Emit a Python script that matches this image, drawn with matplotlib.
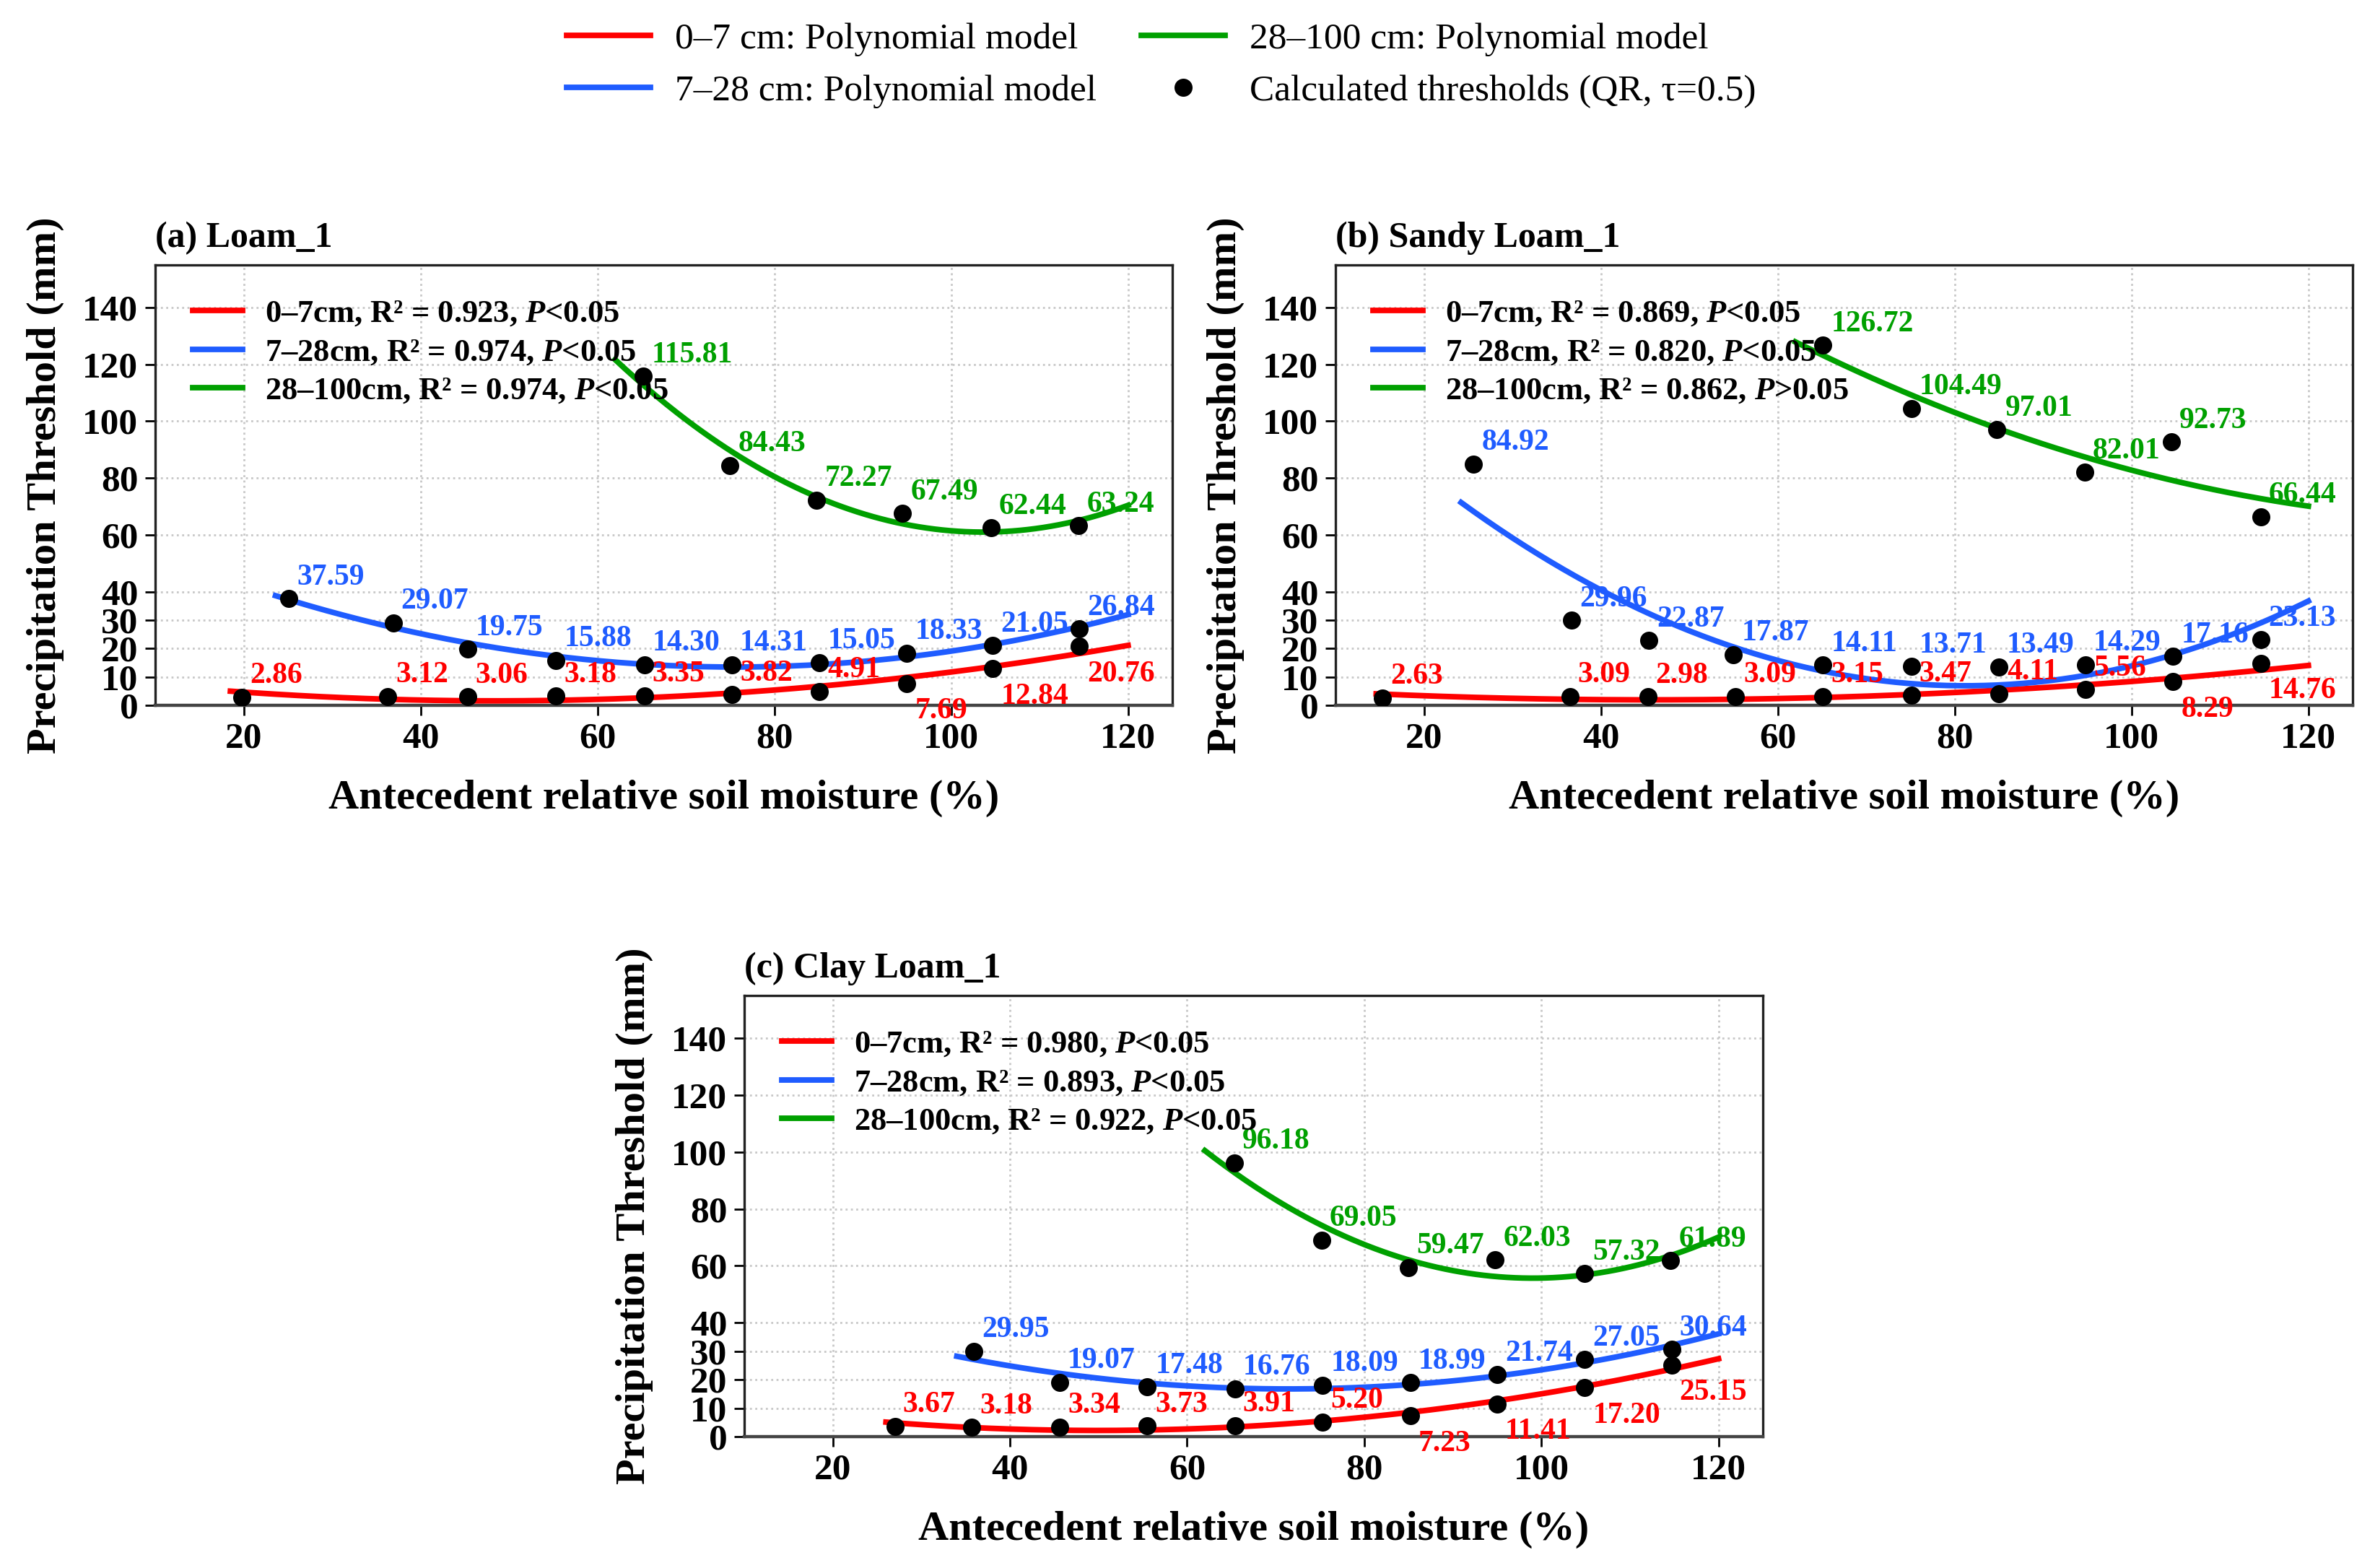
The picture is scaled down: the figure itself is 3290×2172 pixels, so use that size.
import numpy as np
import matplotlib
matplotlib.use("Agg")
import matplotlib.pyplot as plt
from matplotlib.lines import Line2D

plt.rcParams["font.family"] = ["Liberation Serif", "DejaVu Serif"]
plt.rcParams["font.weight"] = "bold"
plt.rcParams["mathtext.fontset"] = "custom"
plt.rcParams["mathtext.it"] = "Liberation Serif:italic:bold"
plt.rcParams["mathtext.rm"] = "Liberation Serif:bold"

# (a) Loam_1
a_x_07 = [19.8, 36.3, 45.3, 55.3, 65.3, 75.2, 85.1, 95.0, 104.7, 114.5]
a_y_07 = [2.86, 3.12, 3.06, 3.18, 3.35, 3.82, 4.91, 7.69, 12.84, 20.76]
a_x_728 = [25.1, 36.9, 45.3, 55.3, 65.3, 75.2, 85.1, 95.0, 104.7, 114.5]
a_y_728 = [37.59, 29.07, 19.75, 15.88, 14.30, 14.31, 15.05, 18.33, 21.05, 26.84]
a_x_28100 = [65.2, 75.0, 84.8, 94.5, 104.5, 114.4]
a_y_28100 = [115.81, 84.43, 72.27, 67.49, 62.44, 63.24]
a_stats = ["0–7cm, R² = 0.923, $P$<0.05",
           "7–28cm, R² = 0.974, $P$<0.05",
           "28–100cm, R² = 0.974, $P$<0.05"]
a_curve_start = [18.5, 23.6, 62.0]
a_below = [[7, 8, 9], [], []]

# (b) Sandy Loam_1
b_x_07 = [15.3, 36.5, 45.3, 55.2, 65.1, 75.1, 85.0, 94.8, 104.7, 114.6]
b_y_07 = [2.63, 3.09, 2.98, 3.09, 3.15, 3.47, 4.11, 5.56, 8.29, 14.76]
b_x_728 = [25.6, 36.7, 45.4, 55.0, 65.1, 75.1, 85.0, 94.8, 104.7, 114.6]
b_y_728 = [84.92, 29.96, 22.87, 17.87, 14.11, 13.71, 13.49, 14.29, 17.16, 23.13]
b_x_28100 = [65.1, 75.1, 84.8, 94.7, 104.5, 114.6]
b_y_28100 = [126.72, 104.49, 97.01, 82.01, 92.73, 66.44]
b_stats = ["0–7cm, R² = 0.869, $P$<0.05",
           "7–28cm, R² = 0.820, $P$<0.05",
           "28–100cm, R² = 0.862, $P$>0.05"]
b_curve_start = [14.6, 24.2, 62.0]
b_below = [[8, 9], [], []]

# (c) Clay Loam_1
c_x_07 = [27.0, 35.7, 45.6, 55.5, 65.4, 75.3, 85.2, 95.0, 104.9, 114.7]
c_y_07 = [3.67, 3.18, 3.34, 3.73, 3.91, 5.20, 7.23, 11.41, 17.20, 25.15]
c_x_728 = [35.9, 45.6, 55.5, 65.4, 75.3, 85.2, 95.0, 104.9, 114.7]
c_y_728 = [29.95, 19.07, 17.48, 16.76, 18.09, 18.99, 21.74, 27.05, 30.64]
c_x_28100 = [65.3, 75.2, 85.0, 94.8, 104.9, 114.6]
c_y_28100 = [96.18, 69.05, 59.47, 62.03, 57.32, 61.89]
c_stats = ["0–7cm, R² = 0.980, $P$<0.05",
           "7–28cm, R² = 0.893, $P$<0.05",
           "28–100cm, R² = 0.922, $P$<0.05"]
c_curve_start = [26.0, 34.0, 62.0]
c_below = [[6, 7, 8, 9], [], []]

colors = ["#ff0000", "#1f5cff", "#00a000"]
y_ticks = [0, 10, 20, 30, 40, 60, 80, 100, 120, 140]
x_ticks = [20, 40, 60, 80, 100, 120]

W, H = 3290, 2172
fig = plt.figure(figsize=(W / 200, H / 200), dpi=200)


def draw_panel(ax, title, xs, ys, stats, starts, below):
    # quadratic model through each depth's thresholds
    for i in range(3):
        coef = np.polyfit(xs[i], ys[i], 2)
        xx = np.linspace(starts[i], 120, 200)
        ax.plot(xx, np.polyval(coef, xx), color=colors[i], lw=2.8, label=stats[i], zorder=3)
    for i in range(3):
        ax.plot(xs[i], ys[i], "o", color="black", ms=8, zorder=4)
        for j, (x, y) in enumerate(zip(xs[i], ys[i])):
            if j in below[i]:
                off, va = (4, -7), "top"
            else:
                off, va = (4, 7), "baseline"
            ax.annotate(f"{y:.2f}", (x, y), xytext=off, textcoords="offset points",
                        ha="left", va=va, color=colors[i], fontsize=15,
                        fontweight="bold", zorder=5)
    ax.set_xlim(10, 125)
    ax.set_ylim(0, 155)
    ax.set_xticks(x_ticks)
    ax.set_yticks(y_ticks)
    ax.tick_params(labelsize=18.5, length=5, width=1, direction="out")
    ax.grid(True, ls=":", lw=1.0, color="#c8c8c8")
    ax.set_axisbelow(True)
    for s in ax.spines.values():
        s.set_linewidth(1.2)
        s.set_color("#222222")
    ax.spines["bottom"].set_linewidth(1.6)
    ax.spines["bottom"].set_color("#444444")
    ax.set_xlabel("Antecedent relative soil moisture (%)", fontsize=21, fontweight="bold", labelpad=12)
    ax.set_ylabel("Precipitation Threshold (mm)", fontsize=21, fontweight="bold", labelpad=9)
    ax.set_title(title, loc="left", fontsize=18, fontweight="bold", pad=9)
    ax.legend(loc="upper left", bbox_to_anchor=(0.012, 0.98), frameon=False, fontsize=16,
              handlelength=1.55, handletextpad=0.7, labelspacing=0.3, borderaxespad=0.4)


ax_a = fig.add_axes([215 / W, 1 - 977 / H, 1409 / W, 610 / H])
ax_b = fig.add_axes([1850 / W, 1 - 977 / H, 1409 / W, 610 / H])
ax_c = fig.add_axes([1031 / W, 1 - 1990 / H, 1411 / W, 611 / H])

draw_panel(ax_a, "(a) Loam_1", [a_x_07, a_x_728, a_x_28100], [a_y_07, a_y_728, a_y_28100],
           a_stats, a_curve_start, a_below)
draw_panel(ax_b, "(b) Sandy Loam_1", [b_x_07, b_x_728, b_x_28100], [b_y_07, b_y_728, b_y_28100],
           b_stats, b_curve_start, b_below)
draw_panel(ax_c, "(c) Clay Loam_1", [c_x_07, c_x_728, c_x_28100], [c_y_07, c_y_728, c_y_28100],
           c_stats, c_curve_start, c_below)

handles = [Line2D([], [], color=colors[0], lw=2.8),
           Line2D([], [], color=colors[1], lw=2.8),
           Line2D([], [], color=colors[2], lw=2.8),
           Line2D([], [], marker="o", ls="", color="black", ms=8)]
labels = ["0–7 cm: Polynomial model", "7–28 cm: Polynomial model",
          "28–100 cm: Polynomial model", "Calculated thresholds (QR, τ=0.5)"]
fig.legend(handles, labels, loc="upper center", bbox_to_anchor=(0.489, 1.0), ncol=2,
           frameon=False, prop={"family": "Liberation Serif", "weight": "normal", "size": 18.5},
           handlelength=2.26, handletextpad=0.66, columnspacing=1.2, labelspacing=0.5,
           borderpad=0.1)

fig.savefig("out.png", dpi=200)
